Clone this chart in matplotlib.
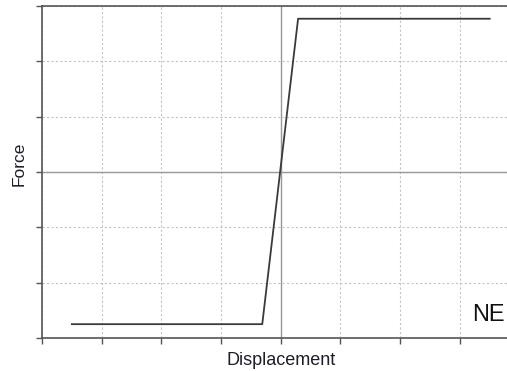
import matplotlib
matplotlib.use("Agg")
import matplotlib.pyplot as plt

# Data (force-displacement backbone)
displacement = [-3.5, -0.31, 0.29, 3.5]
force = [-2.75, -2.75, 2.77, 2.77]
x_ticks = [-4, -3, -2, -1, 0, 1, 2, 3]
y_ticks = [-3, -2, -1, 0, 1, 2, 3]
label_text = "NE"

plt.rcParams['font.family'] = ['Liberation Sans', 'DejaVu Sans']

fig = plt.figure(figsize=(5.07, 3.71), dpi=100)
ax = fig.add_axes([42/507, 1-338/371, 1-42/507, (338-6)/371])

ax.set_xlim(-4, 3.79)
ax.set_ylim(-3, 3)
ax.set_xticks(x_ticks)
ax.set_yticks(y_ticks)
ax.set_xticklabels([])
ax.set_yticklabels([])
ax.grid(True, color='#c4c4c4', linestyle=(0, (2, 2)), linewidth=0.8)
ax.axhline(0, color='#999999', linewidth=1.0, zorder=2)
ax.axvline(0, color='#999999', linewidth=1.0, zorder=2)

ax.plot(displacement, force, color='#3a3a3a', linewidth=1.3, zorder=3)

for s in ['left', 'bottom', 'top']:
    ax.spines[s].set_color('#555555')
    ax.spines[s].set_linewidth(1.2)
ax.spines['right'].set_visible(False)
ax.tick_params(direction='out', length=4, width=1, color='#555555')

ax.set_xlabel('Displacement', fontsize=13, color='#1e1e2a')
ax.xaxis.set_label_coords(0.5135, -0.041)
ax.set_ylabel('Force', fontsize=12.5, color='#1e1e2a')
ax.yaxis.set_label_coords(-0.034, 0.524)

ax.text(0.995, 0.05, label_text, transform=ax.transAxes, fontsize=17,
        ha='right', va='baseline', color='#111111')

fig.savefig('out.png', dpi=100)
